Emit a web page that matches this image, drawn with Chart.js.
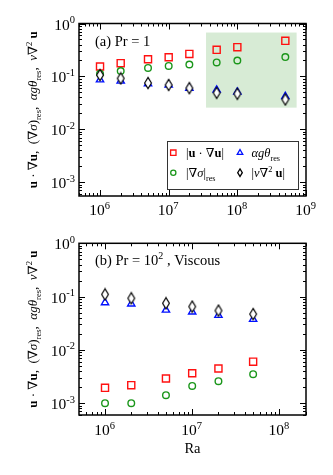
<!DOCTYPE html>
<html><head><meta charset="utf-8">
<script src="https://cdn.jsdelivr.net/npm/chart.js@4.4.1/dist/chart.umd.min.js"></script>
<style>
html,body{margin:0;padding:0;background:#fff;width:333px;height:475px;overflow:hidden}
canvas{position:absolute;left:0}
#ca{top:0}
#cb{top:233px}
</style></head><body>
<canvas id="ca" width="333" height="233"></canvas>
<canvas id="cb" width="333" height="242"></canvas>
<script>
// ---------- data: panel (a) Pr = 1 ----------
const raA = [1e6, 2e6, 5e6, 1e7, 2e7, 5e7, 1e8, 5e8];
const advA = [0.154, 0.178, 0.211, 0.23, 0.266, 0.318, 0.357, 0.47];
const gradSigA = [0.112, 0.126, 0.145, 0.158, 0.168, 0.184, 0.2, 0.232];
const buoyA = [0.0866, 0.0818, 0.0729, 0.0688, 0.0596, 0.0553, 0.0508, 0.0418];
const viscA = [0.106, 0.0917, 0.075, 0.069, 0.06, 0.049, 0.047, 0.0367];
// ---------- data: panel (b) Pr = 100, viscous ----------
const raB = [1e6, 2e6, 5e6, 1e7, 2e7, 5e7];
const advB = [0.00194, 0.00218, 0.0029, 0.00365, 0.00447, 0.006];
const gradSigB = [0.001, 0.001, 0.00141, 0.00211, 0.00259, 0.0035];
const buoyB = [0.077, 0.073, 0.056, 0.0516, 0.0447, 0.0376];
const viscB = [0.11, 0.093, 0.075, 0.065, 0.0546, 0.047];
// shaded region in panel (a)
const shadeX = [3.5e7, 7.3e8];
const shadeY = [0.0257, 0.675];
// tick labels
const xTickValsA = [1e6, 1e7, 1e8, 1e9];
const xTickExpA = ['6', '7', '8', '9'];
const xTickValsB = [1e6, 1e7, 1e8];
const xTickExpB = ['6', '7', '8'];
const yTickVals = [1, 0.1, 0.01, 0.001];
const yTickExp = ['0', '-1', '-2', '-3'];

// ---------- styling ----------
const RED = '#ff1010', GREEN = '#1a961a', BLUE = '#0010ff', BLACK = '#000';
const SERIF = '"Liberation Serif","DejaVu Serif","Times New Roman",serif';
const F = (sz, st) => (st ? st + ' ' : '') + sz + 'px ' + SERIF;
const TICK_FS = 15.5, TICK_SUP = 10.5;

function diamondImg(hw, hh, lw) {
  const c = document.createElement('canvas');
  c.width = 10; c.height = 14;
  const g = c.getContext('2d');
  const cx = c.width / 2, cy = c.height / 2;
  g.beginPath();
  g.moveTo(cx, cy - hh); g.lineTo(cx + hw, cy); g.lineTo(cx, cy + hh); g.lineTo(cx - hw, cy); g.closePath();
  g.fillStyle = '#fff'; g.fill();
  g.lineWidth = lw; g.strokeStyle = BLACK; g.stroke();
  return c;
}
const DIAMOND = diamondImg(3.4, 5.6, 1.15);

function richWidth(ctx, segs) {
  let w = 0;
  for (const s of segs) { ctx.font = s.f; w += ctx.measureText(s.t).width; }
  return w;
}
function drawRich(ctx, segs, x, y, align) {
  const w = richWidth(ctx, segs);
  let cx = align === 'center' ? x - w / 2 : align === 'right' ? x - w : x;
  ctx.textBaseline = 'alphabetic'; ctx.textAlign = 'left'; ctx.fillStyle = '#000';
  for (const s of segs) {
    ctx.font = s.f;
    ctx.fillText(s.t, cx, y + (s.dy || 0));
    cx += ctx.measureText(s.t).width;
  }
}
function titleSegs(s) {
  const sub = s * 0.66;
  return [
    {t: 'u', f: F(s, 'bold')}, {t: ' · ∇', f: F(s)}, {t: 'u', f: F(s, 'bold')},
    {t: ',  (∇', f: F(s)}, {t: 'σ', f: F(s, 'italic')}, {t: ')', f: F(s)},
    {t: 'res', f: F(sub), dy: s * 0.3}, {t: ',  ', f: F(s)},
    {t: 'αgθ', f: F(s, 'italic')}, {t: 'res', f: F(sub), dy: s * 0.3}, {t: ',  ', f: F(s)},
    {t: 'ν', f: F(s, 'italic')}, {t: '∇', f: F(s)}, {t: '2', f: F(sub), dy: -s * 0.42},
    {t: ' ', f: F(s)}, {t: 'u', f: F(s, 'bold')}
  ];
}
function legendSegs(s) {
  const sub = s * 0.66;
  return [
    [{t: '|', f: F(s)}, {t: 'u', f: F(s, 'bold')}, {t: ' · ∇', f: F(s)}, {t: 'u', f: F(s, 'bold')}, {t: '|', f: F(s)}],
    [{t: 'αgθ', f: F(s, 'italic')}, {t: 'res', f: F(sub), dy: s * 0.3}],
    [{t: '|∇', f: F(s)}, {t: 'σ', f: F(s, 'italic')}, {t: '|', f: F(s)}, {t: 'res', f: F(sub), dy: s * 0.3}],
    [{t: '|', f: F(s)}, {t: 'ν', f: F(s, 'italic')}, {t: '∇', f: F(s)}, {t: '2', f: F(sub), dy: -s * 0.42}, {t: ' ', f: F(s)}, {t: 'u', f: F(s, 'bold')}, {t: '|', f: F(s)}]
  ];
}
function drawMarker(ctx, type, x, y, k) {
  ctx.save();
  ctx.lineWidth = 1.3;
  ctx.beginPath();
  if (type === 'rect') {
    ctx.strokeStyle = RED; ctx.rect(x - 2.7 * k, y - 2.7 * k, 5.4 * k, 5.4 * k);
  } else if (type === 'circle') {
    ctx.strokeStyle = GREEN; ctx.arc(x, y, 2.6 * k, 0, Math.PI * 2);
  } else if (type === 'triangle') {
    const r = 3.2 * k;
    ctx.strokeStyle = BLUE;
    ctx.moveTo(x, y - r); ctx.lineTo(x + r * 0.866, y + r / 2); ctx.lineTo(x - r * 0.866, y + r / 2); ctx.closePath();
  } else {
    ctx.strokeStyle = BLACK;
    ctx.moveTo(x, y - 3.8 * k); ctx.lineTo(x + 2.3 * k, y); ctx.lineTo(x, y + 3.8 * k); ctx.lineTo(x - 2.3 * k, y); ctx.closePath();
  }
  ctx.stroke();
  ctx.restore();
}
function logTicks(min, max) {
  const out = [];
  for (let d = Math.floor(Math.log10(min)); d <= Math.ceil(Math.log10(max)); d++) {
    for (let m = 1; m < 10; m++) {
      const v = m * Math.pow(10, d);
      if (v >= min * 0.9999 && v <= max * 1.0001) out.push({v, major: m === 1});
    }
  }
  return out;
}

function axesPlugin(o) {
  return {
    id: 'axes_' + o.id,
    beforeDatasetsDraw(chart) {
      if (!o.shade) return;
      const ctx = chart.ctx, xs = chart.scales.x, ys = chart.scales.y;
      const x0 = xs.getPixelForValue(o.shade.x[0]), x1 = xs.getPixelForValue(o.shade.x[1]);
      const y0 = ys.getPixelForValue(o.shade.y[1]), y1 = ys.getPixelForValue(o.shade.y[0]);
      ctx.save(); ctx.fillStyle = '#d7ebd5'; ctx.fillRect(x0, y0, x1 - x0, y1 - y0); ctx.restore();
    },
    afterDraw(chart) {
      const ctx = chart.ctx, a = chart.chartArea, xs = chart.scales.x, ys = chart.scales.y;
      ctx.save();
      ctx.strokeStyle = '#000'; ctx.lineWidth = 1;
      const ln = (x1, y1, x2, y2) => { ctx.beginPath(); ctx.moveTo(x1, y1); ctx.lineTo(x2, y2); ctx.stroke(); };
      for (const t of logTicks(o.xMin, o.xMax)) {
        const p = Math.round(xs.getPixelForValue(t.v)) + 0.5, L = t.major ? 6 : 3;
        ln(p, a.bottom, p, a.bottom - L); ln(p, a.top, p, a.top + L);
      }
      for (const t of logTicks(o.yMin, o.yMax)) {
        const p = Math.round(ys.getPixelForValue(t.v)) + 0.5, L = t.major ? 6 : 3;
        ln(a.left, p, a.left + L, p); ln(a.right, p, a.right - L, p);
      }
      ctx.lineWidth = 1.5;
      ctx.strokeRect(a.left, a.top, a.right - a.left, a.bottom - a.top);
      // tick labels
      o.xTickVals.forEach((v, i) => {
        const p = xs.getPixelForValue(v);
        drawRich(ctx, [{t: '10', f: F(TICK_FS)}, {t: o.xTickExp[i], f: F(TICK_SUP), dy: -6.5}], p - 0.5, a.bottom + o.xLabOff, 'center');
      });
      yTickVals.forEach((v, i) => {
        const p = ys.getPixelForValue(v);
        drawRich(ctx, [{t: '10', f: F(TICK_FS)}, {t: yTickExp[i], f: F(TICK_SUP), dy: -6.5}], a.left - 4, p + 6, 'right');
      });
      // panel label
      drawRich(ctx, o.labelSegs, a.left + 16, o.labelY, 'left');
      // y title (rotated)
      ctx.save();
      ctx.translate(37, (a.top + a.bottom) / 2);
      ctx.rotate(-Math.PI / 2);
      drawRich(ctx, titleSegs(13), 0, 0, 'center');
      ctx.restore();
      // x title
      if (o.xTitleY) drawRich(ctx, [{t: 'Ra', f: F(14.5)}], (a.left + a.right) / 2, o.xTitleY, 'center');
      // legend
      if (o.legend) {
        const L = o.legend;
        ctx.fillStyle = '#fff'; ctx.fillRect(L.x0, L.y0, L.x1 - L.x0, L.y1 - L.y0);
        ctx.strokeStyle = '#333'; ctx.lineWidth = 1;
        ctx.strokeRect(L.x0 + 0.5, L.y0 + 0.5, L.x1 - L.x0, L.y1 - L.y0);
        const segs = legendSegs(12.5);
        const types = ['rect', 'triangle', 'circle', 'diamond'];
        const pos = [[0, 0], [1, 0], [0, 1], [1, 1]];
        pos.forEach(([c, r], i) => {
          const y = L.rows[r];
          drawMarker(ctx, types[i], L.mx[c], y, 1);
          drawRich(ctx, segs[i], L.tx[c], y + 4.5, 'left');
        });
      }
      ctx.restore();
    }
  };
}

function makePanel(canvas, o) {
  const pts = (xs, ys) => xs.map((x, i) => ({x, y: ys[i]}));
  const datasets = [
    {data: pts(o.ra, o.visc), pointStyle: DIAMOND, pointRadius: 4, order: 1},
    {data: pts(o.ra, o.buoy), pointStyle: 'triangle', pointRadius: 4.2, pointBorderColor: BLUE, pointBorderWidth: 1.4, order: 2},
    {data: pts(o.ra, o.grad), pointStyle: 'circle', pointRadius: 3.3, pointBorderColor: GREEN, pointBorderWidth: 1.4, order: 3},
    {data: pts(o.ra, o.adv), pointStyle: 'rect', pointRadius: 5, pointBorderColor: RED, pointBorderWidth: 1.4, order: 4}
  ];
  datasets.forEach(d => { d.pointBackgroundColor = 'rgba(0,0,0,0)'; d.showLine = false; d.clip = false; });
  return new Chart(canvas, {
    type: 'scatter',
    data: {datasets},
    options: {
      responsive: false, animation: false, events: [],
      layout: {padding: o.pad},
      plugins: {legend: {display: false}, tooltip: {enabled: false}},
      scales: {
        x: {type: 'logarithmic', min: o.xMin, max: o.xMax, display: false},
        y: {type: 'logarithmic', min: o.yMin, max: o.yMax, display: false}
      }
    },
    plugins: [axesPlugin(o)]
  });
}

makePanel(document.getElementById('ca'), {
  id: 'a', ra: raA, adv: advA, grad: gradSigA, buoy: buoyA, visc: viscA,
  pad: {left: 79, right: 27, top: 23.5, bottom: 37},
  xMin: 4.94e5, xMax: 1e9, yMin: 5.5e-4, yMax: 1,
  xTickVals: xTickValsA, xTickExp: xTickExpA, xLabOff: 19,
  shade: {x: shadeX, y: shadeY},
  labelSegs: [{t: '(a) Pr = 1', f: F(14.5)}], labelY: 46,
  legend: {x0: 167, y0: 141, x1: 298, y1: 189, rows: [152.7, 172.7], mx: [173.3, 240], tx: [186, 251.5]}
});
makePanel(document.getElementById('cb'), {
  id: 'b', ra: raB, adv: advB, grad: gradSigB, buoy: buoyB, visc: viscB,
  pad: {left: 79, right: 27, top: 10.3, bottom: 60},
  xMin: 5.03e5, xMax: 2.02e8, yMin: 6.0e-4, yMax: 1,
  xTickVals: xTickValsB, xTickExp: xTickExpB, xLabOff: 20,
  labelSegs: [{t: '(b) Pr = 10', f: F(14.5)}, {t: '2', f: F(10), dy: -6}, {t: ' , Viscous', f: F(14.5)}], labelY: 32,
  xTitleY: 220
});
</script>
</body></html>
